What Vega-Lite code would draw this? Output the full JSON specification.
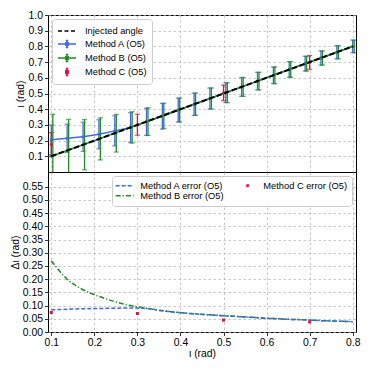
{
  "$schema": "https://vega.github.io/schema/vega-lite/v6.json",
  "padding": {"left": 10, "top": 9, "right": 5, "bottom": 5},
  "background": "white",
  "datasets": {
    "top": [
      {"method": "Method A (O5)", "x": 0.1, "y": 0.205, "lo": 0.110, "hi": 0.300},
      {"method": "Method A (O5)", "x": 0.1368, "y": 0.215, "lo": 0.125, "hi": 0.305},
      {"method": "Method A (O5)", "x": 0.1737, "y": 0.224, "lo": 0.131, "hi": 0.317},
      {"method": "Method A (O5)", "x": 0.2105, "y": 0.240, "lo": 0.147, "hi": 0.333},
      {"method": "Method A (O5)", "x": 0.2474, "y": 0.262, "lo": 0.166, "hi": 0.358},
      {"method": "Method A (O5)", "x": 0.2842, "y": 0.283, "lo": 0.188, "hi": 0.378},
      {"method": "Method A (O5)", "x": 0.3211, "y": 0.319, "lo": 0.233, "hi": 0.405},
      {"method": "Method A (O5)", "x": 0.3579, "y": 0.355, "lo": 0.273, "hi": 0.437},
      {"method": "Method A (O5)", "x": 0.3947, "y": 0.394, "lo": 0.318, "hi": 0.470},
      {"method": "Method A (O5)", "x": 0.4316, "y": 0.431, "lo": 0.360, "hi": 0.502},
      {"method": "Method A (O5)", "x": 0.4684, "y": 0.468, "lo": 0.401, "hi": 0.535},
      {"method": "Method A (O5)", "x": 0.5053, "y": 0.505, "lo": 0.442, "hi": 0.568},
      {"method": "Method A (O5)", "x": 0.5421, "y": 0.542, "lo": 0.482, "hi": 0.602},
      {"method": "Method A (O5)", "x": 0.5789, "y": 0.579, "lo": 0.523, "hi": 0.635},
      {"method": "Method A (O5)", "x": 0.6158, "y": 0.616, "lo": 0.563, "hi": 0.669},
      {"method": "Method A (O5)", "x": 0.6526, "y": 0.653, "lo": 0.603, "hi": 0.703},
      {"method": "Method A (O5)", "x": 0.6895, "y": 0.690, "lo": 0.643, "hi": 0.737},
      {"method": "Method A (O5)", "x": 0.7263, "y": 0.726, "lo": 0.681, "hi": 0.771},
      {"method": "Method A (O5)", "x": 0.7632, "y": 0.763, "lo": 0.721, "hi": 0.805},
      {"method": "Method A (O5)", "x": 0.8, "y": 0.800, "lo": 0.760, "hi": 0.840},
      {"method": "Method B (O5)", "x": 0.1, "y": 0.1, "lo": -0.168, "hi": 0.368},
      {"method": "Method B (O5)", "x": 0.1368, "y": 0.1368, "lo": -0.061, "hi": 0.335},
      {"method": "Method B (O5)", "x": 0.1737, "y": 0.1737, "lo": 0.014, "hi": 0.334},
      {"method": "Method B (O5)", "x": 0.2105, "y": 0.2105, "lo": 0.077, "hi": 0.345},
      {"method": "Method B (O5)", "x": 0.2474, "y": 0.2474, "lo": 0.127, "hi": 0.367},
      {"method": "Method B (O5)", "x": 0.2842, "y": 0.2842, "lo": 0.184, "hi": 0.384},
      {"method": "Method B (O5)", "x": 0.3211, "y": 0.3211, "lo": 0.233, "hi": 0.409},
      {"method": "Method B (O5)", "x": 0.3579, "y": 0.3579, "lo": 0.278, "hi": 0.438},
      {"method": "Method B (O5)", "x": 0.3947, "y": 0.3947, "lo": 0.319, "hi": 0.471},
      {"method": "Method B (O5)", "x": 0.4316, "y": 0.4316, "lo": 0.361, "hi": 0.503},
      {"method": "Method B (O5)", "x": 0.4684, "y": 0.4684, "lo": 0.401, "hi": 0.535},
      {"method": "Method B (O5)", "x": 0.5053, "y": 0.5053, "lo": 0.442, "hi": 0.568},
      {"method": "Method B (O5)", "x": 0.5421, "y": 0.5421, "lo": 0.482, "hi": 0.602},
      {"method": "Method B (O5)", "x": 0.5789, "y": 0.5789, "lo": 0.523, "hi": 0.635},
      {"method": "Method B (O5)", "x": 0.6158, "y": 0.6158, "lo": 0.563, "hi": 0.669},
      {"method": "Method B (O5)", "x": 0.6526, "y": 0.6526, "lo": 0.603, "hi": 0.703},
      {"method": "Method B (O5)", "x": 0.6895, "y": 0.6895, "lo": 0.643, "hi": 0.737},
      {"method": "Method B (O5)", "x": 0.7263, "y": 0.7263, "lo": 0.681, "hi": 0.771},
      {"method": "Method B (O5)", "x": 0.7632, "y": 0.7632, "lo": 0.721, "hi": 0.805},
      {"method": "Method B (O5)", "x": 0.8, "y": 0.8, "lo": 0.760, "hi": 0.840},
      {"method": "Method C (O5)", "x": 0.1, "y": 0.176, "lo": 0.101, "hi": 0.251},
      {"method": "Method C (O5)", "x": 0.3, "y": 0.301, "lo": 0.234, "hi": 0.368},
      {"method": "Method C (O5)", "x": 0.5, "y": 0.504, "lo": 0.454, "hi": 0.554},
      {"method": "Method C (O5)", "x": 0.7, "y": 0.698, "lo": 0.654, "hi": 0.742},
      {"method": "Injected angle", "x": 0.1, "y": 0.1},
      {"method": "Injected angle", "x": 0.8, "y": 0.8}
    ],
    "bottom": [
      {"method": "Method A error (O5)", "x": 0.1, "err": 0.084},
      {"method": "Method A error (O5)", "x": 0.1368, "err": 0.086},
      {"method": "Method A error (O5)", "x": 0.1737, "err": 0.088},
      {"method": "Method A error (O5)", "x": 0.2105, "err": 0.089},
      {"method": "Method A error (O5)", "x": 0.2474, "err": 0.090},
      {"method": "Method A error (O5)", "x": 0.2842, "err": 0.091},
      {"method": "Method A error (O5)", "x": 0.3211, "err": 0.089},
      {"method": "Method A error (O5)", "x": 0.3579, "err": 0.080},
      {"method": "Method A error (O5)", "x": 0.3947, "err": 0.074},
      {"method": "Method A error (O5)", "x": 0.4316, "err": 0.069},
      {"method": "Method A error (O5)", "x": 0.4684, "err": 0.065},
      {"method": "Method A error (O5)", "x": 0.5053, "err": 0.061},
      {"method": "Method A error (O5)", "x": 0.5421, "err": 0.058},
      {"method": "Method A error (O5)", "x": 0.5789, "err": 0.054},
      {"method": "Method A error (O5)", "x": 0.6158, "err": 0.051},
      {"method": "Method A error (O5)", "x": 0.6526, "err": 0.048},
      {"method": "Method A error (O5)", "x": 0.6895, "err": 0.046},
      {"method": "Method A error (O5)", "x": 0.7263, "err": 0.043},
      {"method": "Method A error (O5)", "x": 0.7632, "err": 0.041},
      {"method": "Method A error (O5)", "x": 0.8, "err": 0.039},
      {"method": "Method B error (O5)", "x": 0.1, "err": 0.270},
      {"method": "Method B error (O5)", "x": 0.1368, "err": 0.200},
      {"method": "Method B error (O5)", "x": 0.1737, "err": 0.160},
      {"method": "Method B error (O5)", "x": 0.2105, "err": 0.135},
      {"method": "Method B error (O5)", "x": 0.2474, "err": 0.115},
      {"method": "Method B error (O5)", "x": 0.2842, "err": 0.100},
      {"method": "Method B error (O5)", "x": 0.3211, "err": 0.090},
      {"method": "Method B error (O5)", "x": 0.3579, "err": 0.081},
      {"method": "Method B error (O5)", "x": 0.3947, "err": 0.074},
      {"method": "Method B error (O5)", "x": 0.4316, "err": 0.069},
      {"method": "Method B error (O5)", "x": 0.4684, "err": 0.065},
      {"method": "Method B error (O5)", "x": 0.5053, "err": 0.061},
      {"method": "Method B error (O5)", "x": 0.5421, "err": 0.058},
      {"method": "Method B error (O5)", "x": 0.5789, "err": 0.054},
      {"method": "Method B error (O5)", "x": 0.6158, "err": 0.051},
      {"method": "Method B error (O5)", "x": 0.6526, "err": 0.048},
      {"method": "Method B error (O5)", "x": 0.6895, "err": 0.046},
      {"method": "Method B error (O5)", "x": 0.7263, "err": 0.043},
      {"method": "Method B error (O5)", "x": 0.7632, "err": 0.041},
      {"method": "Method B error (O5)", "x": 0.8, "err": 0.039},
      {"method": "Method C error (O5)", "x": 0.1, "err": 0.074},
      {"method": "Method C error (O5)", "x": 0.3, "err": 0.070},
      {"method": "Method C error (O5)", "x": 0.5, "err": 0.045},
      {"method": "Method C error (O5)", "x": 0.7, "err": 0.038}
    ]
  },
  "spacing": 0,
  "bounds": "flush",
  "resolve": {"scale": {"color": "independent"}, "legend": {"color": "independent"}},
  "vconcat": [
    {
      "width": 308,
      "height": 157,
      "data": {"name": "top"},
      "encoding": {
        "x": {"field": "x", "type": "quantitative", "scale": {"domain": [0.0923, 0.8077], "nice": false, "zero": false},
              "axis": {"values": [0.1, 0.2, 0.3, 0.4, 0.5, 0.6, 0.7, 0.8], "labels": false, "ticks": false, "title": null, "grid": true}},
        "color": {"field": "method", "type": "nominal",
          "scale": {"domain": ["Injected angle", "Method A (O5)", "Method B (O5)", "Method C (O5)"], "range": ["#000000", "#4169e1", "#228b22", "#dc143c"]},
          "legend": {
            "title": null, "orient": "top-left", "offset": 4, "fillColor": "white", "strokeColor": "#cccccc", "cornerRadius": 3, "padding": 5,
            "labelFont": "Liberation Sans", "labelFontSize": 9.3, "labelColor": "black", "symbolSize": 144, "symbolOffset": 3, "rowPadding": 0, "labelOffset": 11,
            "encode": {"symbols": {"update": {
              "shape": {"signal": "datum.value === 'Injected angle' ? 'M-1.5,0H1.5' : datum.value === 'Method C (O5)' ? 'M0,-0.6V0.6M-0.22,-0.6H0.22M-0.22,0.6H0.22M-0.2,-0.2H0.2V0.2H-0.2Z' : 'M-1.5,0H1.5M0,-0.6V0.6M-0.22,-0.6H0.22M-0.22,0.6H0.22M-0.2,-0.2H0.2V0.2H-0.2Z'"},
              "strokeDash": {"signal": "datum.value === 'Injected angle' ? [4, 2.5] : [1, 0]"},
              "strokeWidth": {"value": 1.5},
              "stroke": {"signal": "datum.value === 'Injected angle' ? '#000000' : datum.value === 'Method A (O5)' ? '#4169e1' : datum.value === 'Method B (O5)' ? '#228b22' : '#dc143c'"},
              "fill": {"signal": "datum.value === 'Injected angle' ? 'transparent' : datum.value === 'Method A (O5)' ? '#4169e1' : datum.value === 'Method B (O5)' ? '#228b22' : '#dc143c'"},
              "opacity": {"value": 1}
            }}}
          }
        }
      },
      "layer": [
        {
          "transform": [{"filter": "datum.method === 'Method A (O5)' || datum.method === 'Method B (O5)'"}],
          "mark": {"type": "line", "strokeWidth": 1.5, "clip": true},
          "encoding": {
            "y": {"field": "y", "type": "quantitative", "title": "ι (rad)", "scale": {"domain": [0, 1], "nice": false},
                  "axis": {"values": [0.1, 0.2, 0.3, 0.4, 0.5, 0.6, 0.7, 0.8, 0.9, 1.0], "format": ".1f", "title": "ι (rad)", "titlePadding": 3, "grid": true, "labelOverlap": false}}
          }
        },
        {
          "transform": [{"filter": "datum.method === 'Method A (O5)' || datum.method === 'Method C (O5)'"}],
          "mark": {"type": "rule", "strokeWidth": 1.3, "clip": true},
          "encoding": {"y": {"field": "lo", "type": "quantitative", "title": "ι (rad)", "scale": {"domain": [0, 1], "nice": false},
                  "axis": {"values": [0.1, 0.2, 0.3, 0.4, 0.5, 0.6, 0.7, 0.8, 0.9, 1.0], "format": ".1f", "title": "ι (rad)", "titlePadding": 3, "grid": true, "labelOverlap": false}}, "y2": {"field": "hi"}}
        },
        {
          "transform": [{"filter": "datum.method === 'Method A (O5)' || datum.method === 'Method C (O5)'"}],
          "mark": {"type": "tick", "orient": "horizontal", "size": 5, "thickness": 1.3, "clip": true},
          "encoding": {"y": {"field": "lo", "type": "quantitative", "title": "ι (rad)", "scale": {"domain": [0, 1], "nice": false},
                  "axis": {"values": [0.1, 0.2, 0.3, 0.4, 0.5, 0.6, 0.7, 0.8, 0.9, 1.0], "format": ".1f", "title": "ι (rad)", "titlePadding": 3, "grid": true, "labelOverlap": false}}}
        },
        {
          "transform": [{"filter": "datum.method === 'Method A (O5)' || datum.method === 'Method C (O5)'"}],
          "mark": {"type": "tick", "orient": "horizontal", "size": 5, "thickness": 1.3, "clip": true},
          "encoding": {"y": {"field": "hi", "type": "quantitative", "title": "ι (rad)", "scale": {"domain": [0, 1], "nice": false},
                  "axis": {"values": [0.1, 0.2, 0.3, 0.4, 0.5, 0.6, 0.7, 0.8, 0.9, 1.0], "format": ".1f", "title": "ι (rad)", "titlePadding": 3, "grid": true, "labelOverlap": false}}}
        },
        {
          "transform": [{"filter": "datum.method === 'Method B (O5)'"}],
          "mark": {"type": "rule", "strokeWidth": 1.3, "clip": true, "xOffset": 1.5},
          "encoding": {"y": {"field": "lo", "type": "quantitative", "title": "ι (rad)", "scale": {"domain": [0, 1], "nice": false},
                  "axis": {"values": [0.1, 0.2, 0.3, 0.4, 0.5, 0.6, 0.7, 0.8, 0.9, 1.0], "format": ".1f", "title": "ι (rad)", "titlePadding": 3, "grid": true, "labelOverlap": false}}, "y2": {"field": "hi"}}
        },
        {
          "transform": [{"filter": "datum.method === 'Method B (O5)'"}],
          "mark": {"type": "tick", "orient": "horizontal", "size": 5, "thickness": 1.3, "clip": true, "xOffset": 1.5},
          "encoding": {"y": {"field": "lo", "type": "quantitative", "title": "ι (rad)", "scale": {"domain": [0, 1], "nice": false},
                  "axis": {"values": [0.1, 0.2, 0.3, 0.4, 0.5, 0.6, 0.7, 0.8, 0.9, 1.0], "format": ".1f", "title": "ι (rad)", "titlePadding": 3, "grid": true, "labelOverlap": false}}}
        },
        {
          "transform": [{"filter": "datum.method === 'Method B (O5)'"}],
          "mark": {"type": "tick", "orient": "horizontal", "size": 5, "thickness": 1.3, "clip": true, "xOffset": 1.5},
          "encoding": {"y": {"field": "hi", "type": "quantitative", "title": "ι (rad)", "scale": {"domain": [0, 1], "nice": false},
                  "axis": {"values": [0.1, 0.2, 0.3, 0.4, 0.5, 0.6, 0.7, 0.8, 0.9, 1.0], "format": ".1f", "title": "ι (rad)", "titlePadding": 3, "grid": true, "labelOverlap": false}}}
        },
        {
          "transform": [{"filter": "datum.method !== 'Injected angle'"}],
          "mark": {"type": "point", "filled": true, "size": 9, "opacity": 1, "clip": true},
          "encoding": {"y": {"field": "y", "type": "quantitative", "title": "ι (rad)", "scale": {"domain": [0, 1], "nice": false},
                  "axis": {"values": [0.1, 0.2, 0.3, 0.4, 0.5, 0.6, 0.7, 0.8, 0.9, 1.0], "format": ".1f", "title": "ι (rad)", "titlePadding": 3, "grid": true, "labelOverlap": false}}}
        },
        {
          "transform": [{"filter": "datum.method === 'Injected angle'"}],
          "mark": {"type": "line", "strokeWidth": 2, "strokeDash": [5.5, 2.5], "clip": true},
          "encoding": {"y": {"field": "y", "type": "quantitative", "title": "ι (rad)", "scale": {"domain": [0, 1], "nice": false},
                  "axis": {"values": [0.1, 0.2, 0.3, 0.4, 0.5, 0.6, 0.7, 0.8, 0.9, 1.0], "format": ".1f", "title": "ι (rad)", "titlePadding": 3, "grid": true, "labelOverlap": false}}}
        }
      ]
    },
    {
      "width": 308,
      "height": 160,
      "data": {"name": "bottom"},
      "encoding": {
        "x": {"field": "x", "type": "quantitative", "scale": {"domain": [0.0923, 0.8077], "nice": false, "zero": false},
              "axis": {"values": [0.1, 0.2, 0.3, 0.4, 0.5, 0.6, 0.7, 0.8], "format": ".1f", "title": "ι (rad)", "titlePadding": 1, "grid": true}},
        "y": {"field": "err", "type": "quantitative", "title": "Δι (rad)", "scale": {"domain": [0, 0.606], "nice": false},
              "axis": {"values": [0, 0.05, 0.1, 0.15, 0.2, 0.25, 0.3, 0.35, 0.4, 0.45, 0.5, 0.55], "format": ".2f", "title": "Δι (rad)", "titlePadding": 1.5, "grid": true}},
        "color": {"field": "method", "type": "nominal",
          "scale": {"domain": ["Method A error (O5)", "Method B error (O5)", "Method C error (O5)"], "range": ["#4169e1", "#228b22", "#dc143c"]},
          "legend": {
            "title": null, "orient": "top-right", "offset": 4, "columns": 2, "columnPadding": 16, "fillColor": "white", "strokeColor": "#cccccc", "cornerRadius": 3, "padding": 5,
            "labelFont": "Liberation Sans", "labelFontSize": 9.3, "labelColor": "black", "symbolSize": 144, "symbolOffset": 3, "rowPadding": 0, "labelOffset": 11,
            "encode": {"symbols": {"update": {
              "shape": {"signal": "datum.value === 'Method C error (O5)' ? 'M-0.2,-0.2H0.2V0.2H-0.2Z' : 'M-1.5,0H1.5'"},
              "strokeDash": {"signal": "datum.value === 'Method A error (O5)' ? [4, 2] : datum.value === 'Method B error (O5)' ? [5, 2, 1.2, 2] : [1, 0]"},
              "strokeWidth": {"signal": "datum.value === 'Method C error (O5)' ? 0.5 : 1.5"},
              "stroke": {"signal": "datum.value === 'Method A error (O5)' ? '#4169e1' : datum.value === 'Method B error (O5)' ? '#228b22' : '#dc143c'"},
              "fill": {"signal": "datum.value === 'Method C error (O5)' ? '#dc143c' : 'transparent'"},
              "opacity": {"value": 1}
            }}}
          }
        }
      },
      "layer": [
        {
          "transform": [{"filter": "datum.method === 'Method B error (O5)'"}],
          "mark": {"type": "line", "strokeWidth": 1.5, "strokeDash": [5, 2, 1.2, 2], "interpolate": "monotone", "clip": true}
        },
        {
          "transform": [{"filter": "datum.method === 'Method A error (O5)'"}],
          "mark": {"type": "line", "strokeWidth": 1.5, "strokeDash": [4, 2], "interpolate": "monotone", "clip": true}
        },
        {
          "transform": [{"filter": "datum.method === 'Method C error (O5)'"}],
          "mark": {"type": "square", "filled": true, "size": 9, "opacity": 1, "clip": true}
        }
      ]
    }
  ],
  "config": {
    "font": "Liberation Sans",
    "view": {"stroke": "black", "strokeWidth": 1},
    "axis": {
      "labelFont": "Liberation Sans", "titleFont": "Liberation Sans",
      "labelFontSize": 10.4, "titleFontSize": 10.4, "titleFontWeight": "normal",
      "labelColor": "black", "titleColor": "black", "tickColor": "black",
      "domain": false, "tickSize": 3.5, "tickWidth": 0.8, "labelPadding": 2,
      "labelOverlap": false, "labelBound": false, "labelFlush": false,
      "gridColor": "#b0b0b0", "gridDash": [2.5, 2.5], "gridWidth": 0.7
    }
  }
}
